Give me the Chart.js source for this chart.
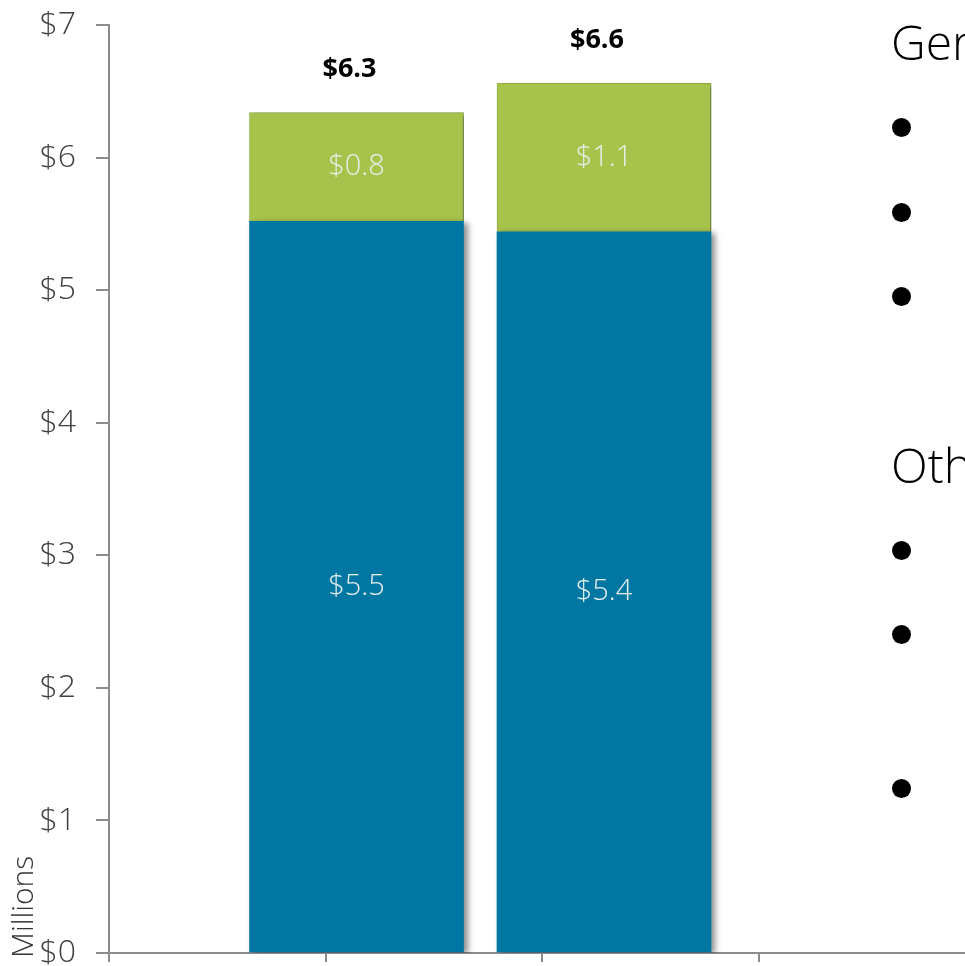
<!DOCTYPE html>
<html><head><meta charset="utf-8">
<script src="https://cdn.jsdelivr.net/npm/chart.js@4.4.1/dist/chart.umd.min.js"></script>
<style>
html,body{margin:0;padding:0;background:#fff;overflow:hidden;width:965px;height:966px;position:relative;}
#wrap{position:absolute;left:0;top:0;width:1860px;height:966px;}
.side{position:absolute;font-family:"Open Sans",sans-serif;font-weight:300;color:#000;white-space:nowrap;line-height:1;}
.dot{position:absolute;width:19px;height:19px;border-radius:50%;background:#000;}
</style></head><body>
<div id="wrap"><canvas id="c" width="1860" height="966"></canvas></div>
<div class="side" style="left:891px;top:18px;font-size:48px;">General</div>
<div class="side" style="left:891px;top:441px;font-size:48px;">Other</div>
<div class="dot" style="left:892px;top:118px;"></div>
<div class="dot" style="left:892px;top:203px;"></div>
<div class="dot" style="left:892px;top:287px;"></div>
<div class="dot" style="left:892px;top:541px;"></div>
<div class="dot" style="left:892px;top:625px;"></div>
<div class="dot" style="left:892px;top:779px;"></div>
<script>
// ---- data ----
const categories = ['Period 1', 'Period 2'];
const baseValues = [5.52, 5.44];     // blue segment ($M)
const addedValues = [0.82, 1.12];    // green segment ($M)
const yTicks = [0, 1, 2, 3, 4, 5, 6, 7];
const axisTitle = 'Millions';

// bar slots: one empty slot before the bars, five after (the original slide continues to the right)
const labels = ['', ...categories, '', '', '', '', ''];
const pad = a => [null, ...a, null, null, null, null, null];
// the bottom axis carries its own, finer tick marks
const tickSlots = ['', '', '', '', '', '', '', '', ''];

const AXIS = '#8c8c8c';
const FONT = '"Open Sans", sans-serif';

const overlay = {
  id: 'overlay',
  beforeDatasetsDraw(chart) {
    const ctx = chart.ctx;
    ctx.save();
    ctx.shadowColor = 'rgba(0,0,0,0.45)';
    ctx.shadowBlur = 6;
    ctx.shadowOffsetX = 4;
    ctx.shadowOffsetY = 2;
  },
  afterDatasetsDraw(chart) {
    const ctx = chart.ctx;
    ctx.restore();
    ctx.save();
    ctx.textAlign = 'center';
    ctx.textBaseline = 'middle';
    chart.data.datasets.forEach((ds, di) => {
      const meta = chart.getDatasetMeta(di);
      meta.data.forEach((bar, i) => {
        const v = ds.data[i];
        if (v == null) return;
        const p = bar.getProps(['x', 'y', 'base'], true);
        ctx.font = '300 29px ' + FONT;
        ctx.fillStyle = '#e8f0ee';
        ctx.fillText('$' + v.toFixed(1), p.x, (p.y + p.base) / 2);
      });
    });
    const topMeta = chart.getDatasetMeta(chart.data.datasets.length - 1);
    topMeta.data.forEach((bar, i) => {
      const a = chart.data.datasets[0].data[i], b = chart.data.datasets[1].data[i];
      if (a == null) return;
      const p = bar.getProps(['x', 'y'], true);
      ctx.font = 'bold 27px ' + FONT;
      ctx.fillStyle = '#000';
      ctx.fillText('$' + (a + b).toFixed(1), p.x - 7, p.y - 43);
    });
    ctx.restore();
  },
  afterDraw(chart) {
    const ctx = chart.ctx;
    ctx.save();
    ctx.translate(33, 958);
    ctx.rotate(-Math.PI / 2);
    ctx.textAlign = 'left';
    ctx.textBaseline = 'alphabetic';
    ctx.font = '300 30px ' + FONT;
    ctx.fillStyle = '#333';
    ctx.fillText(axisTitle, 0, 0);
    ctx.restore();
  }
};

new Chart(document.getElementById('c'), {
  type: 'bar',
  data: {
    labels: labels,
    datasets: [
      { label: 'Base', data: pad(baseValues), backgroundColor: '#0076a2', barThickness: 214 },
      { label: 'Added', data: pad(addedValues), backgroundColor: '#a7c34b', borderColor: '#9db446', borderWidth: 1, barThickness: 214 }
    ]
  },
  options: {
    responsive: false,
    animation: false,
    layout: { padding: { top: 25, right: 18.5, left: 0, bottom: 0 } },
    plugins: { legend: { display: false }, tooltip: { enabled: false } },
    scales: {
      x: { type: 'category', stacked: true, offset: false, display: false },
      x2: {
        type: 'category', position: 'bottom', labels: tickSlots, offset: false,
        ticks: { display: false, autoSkip: false },
        grid: { offset: false, drawOnChartArea: false, tickLength: 9, color: AXIS, lineWidth: 2 },
        border: { color: AXIS, width: 2 },
        afterFit: s => { s.height = 13; s.paddingLeft = 0; s.paddingRight = 0; }
      },
      y: {
        stacked: true, min: 0, max: 7,
        afterBuildTicks: s => { s.ticks = yTicks.map(v => ({ value: v })); },
        ticks: { callback: v => '$' + v, color: '#404040', padding: 20, font: { family: FONT, size: 32, weight: '300' } },
        grid: { drawOnChartArea: false, tickLength: 13, color: AXIS, lineWidth: 2 },
        border: { color: AXIS, width: 2 },
        afterFit: s => { s.width = 109; s.paddingTop = 0; s.paddingBottom = 0; }
      }
    }
  },
  plugins: [overlay]
});
</script>
</body></html>
